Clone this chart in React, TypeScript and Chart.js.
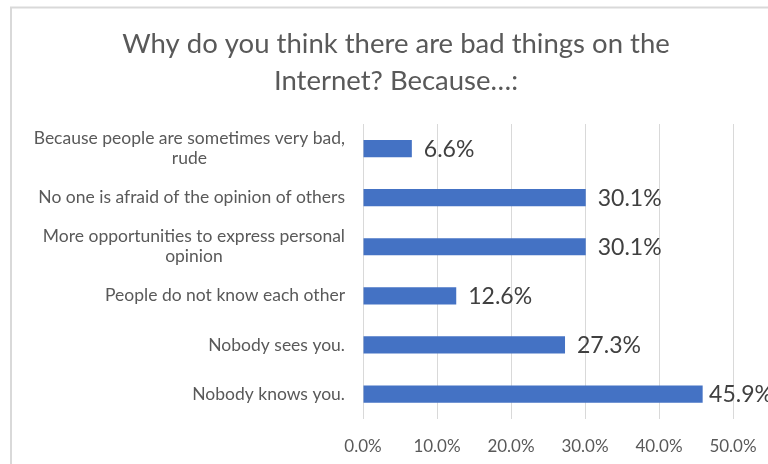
import React, { useEffect, useRef } from "react";
import { Chart, registerables } from "chart.js";

Chart.register(...registerables);

const titleLines = ["Why do you think there are bad things on the", "Internet? Because…:"];
const categories: string[][] = [
  ["Because people are sometimes very bad,", "rude"],
  ["No one is afraid of the opinion of others"],
  ["More opportunities to express personal", "opinion"],
  ["People do not know each other"],
  ["Nobody sees you."],
  ["Nobody knows you."],
];
const values = [6.6, 30.1, 30.1, 12.6, 27.3, 45.9];
const xMin = 0;
const xMax = 50;
const xStep = 10;

const FONT = "Lato, 'Open Sans', sans-serif";

export default function App() {
  const ref = useRef<HTMLCanvasElement | null>(null);

  useEffect(() => {
    const canvas = ref.current;
    if (!canvas) return;

    const framePlugin = {
      id: "frame",
      beforeDraw(chart: any) {
        const ctx = chart.ctx;
        ctx.save();
        ctx.fillStyle = "#ffffff";
        ctx.fillRect(0, 0, chart.width, chart.height);
        ctx.strokeStyle = "#d9d9d9";
        ctx.lineWidth = 2;
        ctx.strokeRect(11, 7.5, 900, 600);
        ctx.restore();
      },
      afterDraw(chart: any) {
        const ctx = chart.ctx;
        ctx.save();
        // title
        ctx.fillStyle = "#595959";
        ctx.font = `27.5px ${FONT}`;
        ctx.textAlign = "center";
        ctx.textBaseline = "alphabetic";
        ctx.fillText(titleLines[0], 396, 53);
        ctx.fillText(titleLines[1], 396, 90);

        // category labels
        const yScale = chart.scales.y;
        ctx.font = `17.5px ${FONT}`;
        ctx.fillStyle = "#595959";
        ctx.textBaseline = "middle";
        ctx.textAlign = "center";
        const rightEdge = 345;
        const lh = 20;
        categories.forEach((lines, i) => {
          const yc = yScale.getPixelForValue(i);
          const maxW = Math.max(...lines.map((l) => ctx.measureText(l).width));
          const cx = rightEdge - maxW / 2;
          const y0 = yc - ((lines.length - 1) * lh) / 2;
          lines.forEach((l, j) => ctx.fillText(l, cx, y0 + j * lh));
        });

        // data labels
        const meta = chart.getDatasetMeta(0);
        ctx.font = `23px ${FONT}`;
        ctx.fillStyle = "#404040";
        ctx.textAlign = "left";
        ctx.textBaseline = "middle";
        meta.data.forEach((el: any, i: number) => {
          const txt = values[i].toFixed(1) + "%";
          const w = ctx.measureText(txt).width;
          let x = el.x + 12;
          if (x + w > 773) x = 773 - w;
          ctx.fillText(txt, x, el.y + 1);
        });
        ctx.restore();
      },
    };

    const chart = new Chart(canvas, {
      type: "bar",
      data: {
        labels: categories.map((c) => c.join(" ")),
        datasets: [
          {
            data: values,
            backgroundColor: "#4472c4",
            borderWidth: 0,
            barPercentage: 0.35,
            categoryPercentage: 1,
          },
        ],
      },
      options: {
        indexAxis: "y",
        animation: false,
        responsive: false,
        devicePixelRatio: 1,
        layout: { padding: { left: 363, right: 35, top: 124, bottom: 6 } },
        plugins: {
          legend: { display: false },
          title: { display: false },
          tooltip: { enabled: false },
        },
        scales: {
          x: {
            min: xMin,
            max: xMax,
            ticks: {
              stepSize: xStep,
              callback: (v: any) => Number(v).toFixed(1) + "%",
              color: "#595959",
              font: { family: FONT, size: 17 },
              padding: 1,
              maxRotation: 0,
              minRotation: 0,
            },
            grid: {
              color: "#d9d9d9",
              lineWidth: 1,
              drawTicks: true,
              tickLength: 17,
              tickColor: "rgba(0,0,0,0)",
            },
            border: { display: false },
          },
          y: {
            ticks: { display: false },
            grid: { display: false, drawTicks: false },
            border: { display: false },
          },
        },
      },
      plugins: [framePlugin],
    });
    return () => chart.destroy();
  }, []);

  return (
    <div style={{ position: "fixed", left: 0, top: 0, width: 768, height: 464 }}>
      <canvas ref={ref} width={768} height={464} style={{ display: "block" }} />
    </div>
  );
}
